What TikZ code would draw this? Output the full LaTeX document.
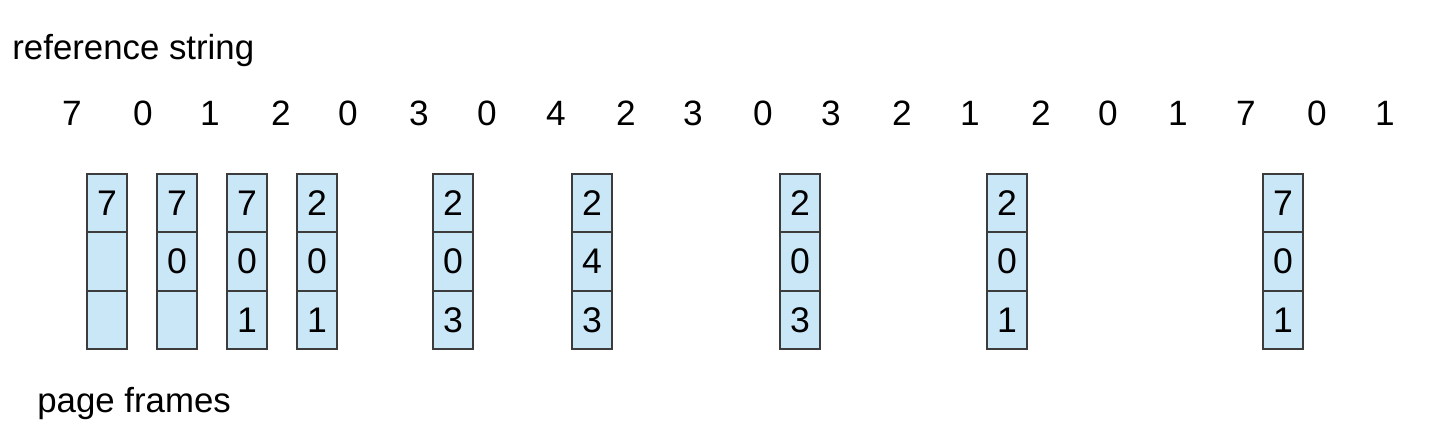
\documentclass[tikz,border=0pt]{standalone}
\usepackage{fontspec}
\setmainfont{Liberation Sans}
\definecolor{framefill}{RGB}{202,231,248}
\definecolor{frameline}{RGB}{60,60,60}

\begin{document}
\begin{tikzpicture}[x=0.5pt,y=-0.5pt,
    labeltext/.style={anchor=base west, inner sep=0pt, font=\fontsize{17.4}{20}\selectfont},
    refdigit/.style={inner sep=0pt, font=\fontsize{17.6}{20}\selectfont},
    cell/.style={draw=frameline, line width=1pt, fill=framefill, minimum width=20pt,
                 minimum height=29.17pt, inner sep=0pt, font=\fontsize{17.8}{20}\selectfont}]
  \useasboundingbox (0,0) rectangle (1449,446);

  % Labels
  \node[labeltext] (reflabel) at (12,59) {reference string};
  \node[labeltext] (framelabel) at (37,412) {page frames};

  % Reference string
  \node[refdigit] (r0)  at (72,113)   {7};
  \node[refdigit] (r1)  at (143,113)  {0};
  \node[refdigit] (r2)  at (210,113)  {1};
  \node[refdigit] (r3)  at (281,113)  {2};
  \node[refdigit] (r4)  at (348,113)  {0};
  \node[refdigit] (r5)  at (419,113)  {3};
  \node[refdigit] (r6)  at (487,113)  {0};
  \node[refdigit] (r7)  at (556,113)  {4};
  \node[refdigit] (r8)  at (626,113)  {2};
  \node[refdigit] (r9)  at (693,113)  {3};
  \node[refdigit] (r10) at (763,113)  {0};
  \node[refdigit] (r11) at (831,113)  {3};
  \node[refdigit] (r12) at (902,113)  {2};
  \node[refdigit] (r13) at (970,113)  {1};
  \node[refdigit] (r14) at (1041,113) {2};
  \node[refdigit] (r15) at (1108,113) {0};
  \node[refdigit] (r16) at (1178,113) {1};
  \node[refdigit] (r17) at (1246,113) {7};
  \node[refdigit] (r18) at (1317,113) {0};
  \node[refdigit] (r19) at (1385,113) {1};

  % Page frames (top, middle, bottom)
  \node[cell] (p1a) at (107,203.2) {7};
  \node[cell] (p1b) at (107,261.5) {};
  \node[cell] (p1c) at (107,319.8) {};

  \node[cell] (p2a) at (177,203.2) {7};
  \node[cell] (p2b) at (177,261.5) {0};
  \node[cell] (p2c) at (177,319.8) {};

  \node[cell] (p3a) at (247,203.2) {7};
  \node[cell] (p3b) at (247,261.5) {0};
  \node[cell] (p3c) at (247,319.8) {1};

  \node[cell] (p4a) at (317,203.2) {2};
  \node[cell] (p4b) at (317,261.5) {0};
  \node[cell] (p4c) at (317,319.8) {1};

  \node[cell] (p5a) at (453,203.2) {2};
  \node[cell] (p5b) at (453,261.5) {0};
  \node[cell] (p5c) at (453,319.8) {3};

  \node[cell] (p6a) at (592,203.2) {2};
  \node[cell] (p6b) at (592,261.5) {4};
  \node[cell] (p6c) at (592,319.8) {3};

  \node[cell] (p7a) at (800,203.2) {2};
  \node[cell] (p7b) at (800,261.5) {0};
  \node[cell] (p7c) at (800,319.8) {3};

  \node[cell] (p8a) at (1007,203.2) {2};
  \node[cell] (p8b) at (1007,261.5) {0};
  \node[cell] (p8c) at (1007,319.8) {1};

  \node[cell] (p9a) at (1283,203.2) {7};
  \node[cell] (p9b) at (1283,261.5) {0};
  \node[cell] (p9c) at (1283,319.8) {1};
\end{tikzpicture}
\end{document}
